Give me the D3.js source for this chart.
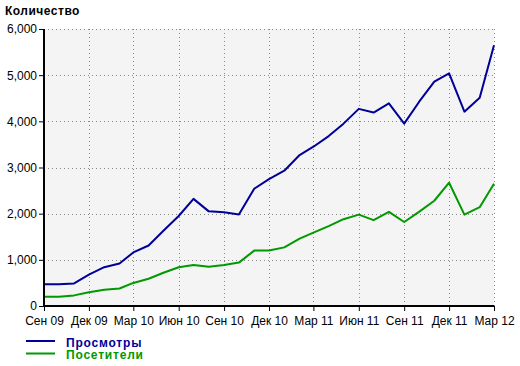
<!DOCTYPE html>
<html>
<head>
<meta charset="utf-8">
<script src="https://cdn.jsdelivr.net/npm/d3@7"></script>
<style>
  body { margin: 0; background: #fff; }
  svg { display: block; font-family: "Liberation Sans", Arial, sans-serif; }
</style>
</head>
<body>
<svg id="chart" width="520" height="366"></svg>
<script>
// monthly, Sep 2009 .. Mar 2012
const months = d3.range(31).map(i => new Date(2009, 8 + i, 1));
const views = [470, 470, 490, 680, 840, 920, 1160, 1310, 1630, 1950, 2320, 2050, 2030, 1980,
  2540, 2750, 2930, 3270, 3450, 3680, 3950, 4270, 4190, 4390, 3950, 4420, 4860, 5040, 4210, 4510, 5650];
const visitors = [200, 200, 230, 300, 350, 380, 500, 590, 720, 840, 890, 850, 890, 940,
  1200, 1200, 1270, 1460, 1590, 1730, 1880, 1980, 1860, 2040, 1820, 2040, 2280, 2670, 1980, 2140, 2650];
const monthNames = ['Янв', 'Фев', 'Мар', 'Апр', 'Май', 'Июн', 'Июл', 'Авг', 'Сен', 'Окт', 'Ноя', 'Дек'];
const yTicks = [0, 1000, 2000, 3000, 4000, 5000, 6000];
const series = [
  { name: 'Просмотры', values: views, color: '#000099' },
  { name: 'Посетители', values: visitors, color: '#009900' },
];

const svg = d3.select('#chart');
const plot = { left: 44, right: 494, top: 29, bottom: 306 };

const x = d3.scaleTime()
  .domain([months[0], months[months.length - 1]])
  .range([plot.left, plot.right]);
const y = d3.scaleLinear()
  .domain([0, 6000])
  .range([plot.bottom, plot.top]);

const xTicks = months.filter((d, i) => i % 3 === 0);

svg.append('rect')
  .attr('x', plot.left).attr('y', plot.top)
  .attr('width', plot.right - plot.left).attr('height', plot.bottom - plot.top)
  .attr('fill', '#f4f4f4');

// grid
const grid = svg.append('g')
  .attr('stroke', '#888')
  .attr('stroke-width', 1)
  .attr('stroke-dasharray', '1,3');
grid.selectAll('.gy')
  .data(yTicks.filter(d => d > 0))
  .enter().append('line')
  .attr('x1', plot.left).attr('x2', plot.right)
  .attr('y1', d => Math.round(y(d)) + 0.5)
  .attr('y2', d => Math.round(y(d)) + 0.5);
grid.selectAll('.gx')
  .data(xTicks.slice(1))
  .enter().append('line')
  .attr('y1', plot.top).attr('y2', plot.bottom)
  .attr('x1', d => Math.round(x(d)) + 0.5)
  .attr('x2', d => Math.round(x(d)) + 0.5);

// lines
const line = d3.line()
  .x((d, i) => x(months[i]))
  .y(d => y(d));

svg.selectAll('.series')
  .data(series)
  .enter().append('path')
  .attr('fill', 'none')
  .attr('stroke', d => d.color)
  .attr('stroke-width', 2)
  .attr('stroke-linejoin', 'round')
  .attr('d', d => line(d.values));

// axes
const yAxis = svg.append('g')
  .attr('transform', `translate(${plot.left},0)`)
  .call(d3.axisLeft(y).tickValues(yTicks).tickSize(5).tickPadding(2)
    .tickFormat(d3.format(',')));
const xAxis = svg.append('g')
  .attr('transform', `translate(0,${plot.bottom})`)
  .call(d3.axisBottom(x).tickValues(xTicks).tickSize(5).tickPadding(5)
    .tickFormat(d => monthNames[d.getMonth()] + ' ' + d3.timeFormat('%y')(d)));

[yAxis, xAxis].forEach(function(ax) {
  ax.select('.domain').remove();
  ax.selectAll('text')
    .attr('fill', '#000')
    .style('font-size', '12px')
    .style('font-family', '"Liberation Sans", Arial, sans-serif');
  ax.selectAll('.tick line').attr('stroke', '#000');
});

svg.append('line')
  .attr('x1', plot.left).attr('x2', plot.left)
  .attr('y1', plot.top).attr('y2', plot.bottom + 1)
  .attr('stroke', '#000').attr('stroke-width', 2);
svg.append('line')
  .attr('x1', plot.left - 1).attr('x2', plot.right)
  .attr('y1', plot.bottom).attr('y2', plot.bottom)
  .attr('stroke', '#000').attr('stroke-width', 2);

svg.append('text')
  .attr('x', 5).attr('y', 15)
  .style('font-size', '12px')
  .style('font-weight', 'bold')
  .style('letter-spacing', '0.5px')
  .text('Количество');

// legend
const legend = svg.selectAll('.legend')
  .data(series)
  .enter().append('g')
  .attr('transform', (d, i) => `translate(26,${341 + i * 12.5})`);
legend.append('line')
  .attr('x1', 0).attr('x2', 29)
  .attr('stroke', d => d.color)
  .attr('stroke-width', 2);
legend.append('text')
  .attr('x', 40).attr('y', 5.5)
  .attr('fill', d => d.color)
  .style('font-size', '12px')
  .style('font-weight', 'bold')
  .style('letter-spacing', '0.8px')
  .text(d => d.name);
</script>
</body>
</html>
